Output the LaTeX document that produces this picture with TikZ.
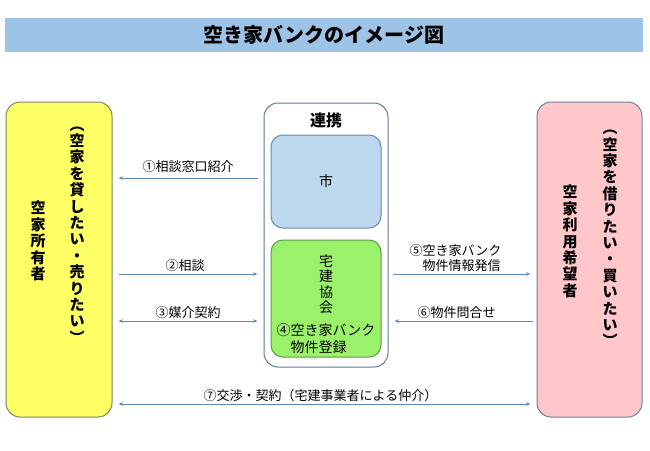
\documentclass[tikz,border=0pt]{standalone}
\usepackage{fontspec}
\setmainfont{Noto Sans CJK JP}
\usetikzlibrary{arrows.meta, positioning}
\definecolor{bankbar}{HTML}{9DC3E6}
\definecolor{bankarrow}{HTML}{5B87BA}
\definecolor{ownerfill}{HTML}{FFFF66}
\definecolor{ownerline}{HTML}{7A8468}
\definecolor{userfill}{HTML}{FFC7CA}
\definecolor{userline}{HTML}{6F7F9F}
\definecolor{renkeiline}{HTML}{5E7898}
\definecolor{cityfill}{HTML}{BDD7EE}
\definecolor{cityline}{HTML}{6A89B0}
\definecolor{takkenfill}{HTML}{9BF26A}
\definecolor{takkenline}{HTML}{5A9A4A}

\begin{document}
\begin{tikzpicture}[x=1pt, y=-1pt, >={Stealth[length=4.5pt, width=3.5pt]},
    box/.style={draw, rounded corners=14pt, line width=1pt, inner sep=0pt},
    link/.style={draw=bankarrow, line width=0.9pt, shorten <=6pt, shorten >=6pt},
    lbl/.style={font=\fontsize{13}{15}\selectfont, inner sep=1pt},
    tate/.style={align=center, inner sep=0pt, font=\fontsize{15}{16.4}\selectfont\bfseries}]
    \useasboundingbox (0,0) rectangle (650,450);

    % Title bar
    \node[fill=bankbar, minimum width=638pt, minimum height=34pt, font=\fontsize{20}{24}\selectfont\bfseries] (title) at (324,35) {空き家バンクのイメージ図};

    % Owner
    \node[box, draw=ownerline, fill=ownerfill, minimum width=106pt, minimum height=315pt] (owner) at (59,259.5) {};
    \node[tate] (ownername) at (38,241) {空\\家\\所\\有\\者};
    \node[tate] (ownerwish) at (77,235) {︵\\空\\家\\を\\貸\\し\\た\\い\\・\\売\\り\\た\\い\\︶};

    % Renkei
    \node[box, draw=renkeiline, fill=white, minimum width=124pt, minimum height=264pt] (renkei) at (326,235) {};
    \node[font=\fontsize{16}{18}\selectfont\bfseries] (renkeititle) at (326,120) {連携};
    \node[box, rounded corners=12pt, draw=cityline, fill=cityfill, minimum width=110pt, minimum height=93pt, font=\fontsize{14}{16}\selectfont] (city) at (326,181.5) {市};
    \node[box, rounded corners=12pt, draw=takkenline, fill=takkenfill, minimum width=110pt, minimum height=117pt] (takken) at (326,298.5) {};
    \node[align=center, inner sep=0pt, font=\fontsize{14}{15.5}\selectfont] (takkenname) at (326,284) {宅\\建\\協\\会};
    \node[align=left, inner sep=0pt, font=\fontsize{14}{17}\selectfont] (takkenreg) at (326,339) {④空き家バンク\\\hspace*{1em}物件登録};

    % User
    \node[box, draw=userline, fill=userfill, minimum width=105pt, minimum height=315pt] (user) at (589.5,259.5) {};
    \node[tate] (username) at (570,241.5) {空\\家\\利\\用\\希\\望\\者};
    \node[tate] (userwish) at (610,238.5) {︵\\空\\家\\を\\借\\り\\た\\い\\・\\買\\い\\た\\い\\︶};

    % Arrows
    \coordinate (r1) at (0,178);
    \coordinate (r2) at (0,274);
    \coordinate (r3) at (0,321);
    \coordinate (r7) at (0,404);
    \draw[link, <-] (owner.east |- r1) -- node[lbl, above=4pt] (l1) {①相談窓口紹介} (renkei.west |- r1);
    \draw[link, ->] (owner.east |- r2) -- node[lbl, above=1pt, xshift=-3pt] (l2) {②相談} (renkei.west |- r2);
    \draw[link, <->] (owner.east |- r3) -- node[lbl, above=1pt] (l3) {③媒介契約} (renkei.west |- r3);
    \draw[link, ->, shorten <=4pt] (renkei.east |- r2) -- node[lbl, above=1pt, xshift=-7pt, align=left] (l5) {⑤空き家バンク\\\hspace*{1em}物件情報発信} (user.west |- r2);
    \draw[link, <-, shorten >=4pt] (renkei.east |- r3) -- node[lbl, above=1pt, xshift=-6pt] (l6) {⑥物件問合せ} (user.west |- r3);
    \draw[link, <->] (owner.east |- r7) -- node[lbl, above=1pt, xshift=-4pt] (l7) {⑦交渉・契約（宅建事業者による仲介）} (user.west |- r7);
\end{tikzpicture}
\end{document}
